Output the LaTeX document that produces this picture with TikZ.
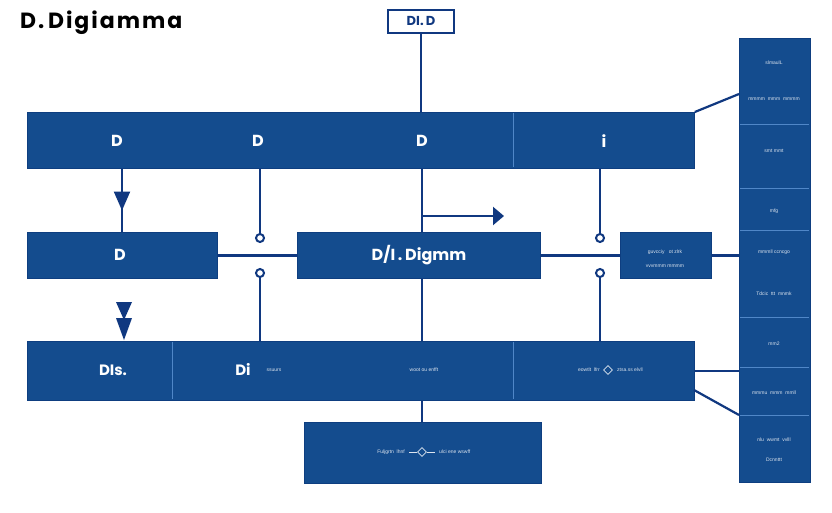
\documentclass[tikz,border=0pt]{standalone}
\usepackage{fontspec}
\setmainfont{Liberation Sans}
\newfontfamily\popfont{Poppins}
\newfontfamily\popwide{Poppins}[LetterSpace=9]
\usetikzlibrary{arrows.meta,decorations.markings,shapes.geometric}
\definecolor{boxblue}{RGB}{20,76,142}
\definecolor{boxedge}{RGB}{14,62,128}
\definecolor{linenavy}{RGB}{16,56,128}
\definecolor{divblue}{RGB}{80,135,200}
\tikzset{
  box/.style={fill=boxblue, draw=boxedge, line width=0.8pt, inner sep=0pt, anchor=north west},
  conn/.style={draw=linenavy, line width=2.2pt},
  hook/.style={circle, draw=linenavy, line width=2pt, fill=white, minimum size=8pt, inner sep=0pt},
  big/.style={text=white, font=\popfont\bfseries\fontsize{16}{16}\selectfont, inner sep=0pt},
  tiny/.style={text=white!85!boxblue, font=\fontsize{5}{5}\selectfont, inner sep=0pt},
  divl/.style={draw=divblue, line width=0.8pt},
  dia/.style={diamond, draw=white!85!boxblue, line width=0.7pt, minimum size=9pt, inner sep=0pt},
  midarrow/.style={postaction={decorate}, decoration={markings, mark=at position #1 with {\arrow{Triangle[length=19pt,width=16pt]}}}}
}
\begin{document}
\begin{tikzpicture}[x=1pt,y=-1pt]
\useasboundingbox (0,0) rectangle (832,512);
\fill[white] (0,0) rectangle (832,512);

% title
\node[anchor=west, inner sep=0pt, font=\popwide\bfseries\fontsize{22}{22}\selectfont] (title) at (20,23) {D.\,Digiamma};
\node[draw=linenavy, line width=2pt, fill=white, minimum width=66pt, minimum height=23pt, inner sep=0pt,
      text=linenavy, font=\popfont\bfseries\fontsize{13}{13}\selectfont] (tbox) at (421,21) {DI.\,D};

% boxes
\node[box, minimum width=667pt, minimum height=56pt] (top) at (27,112) {};
\node[box, minimum width=190pt, minimum height=46pt] (lbox) at (27,232) {};
\node[box, minimum width=243pt, minimum height=46pt] (mbox) at (297,232) {};
\node[box, minimum width=91pt, minimum height=46pt] (rbox) at (620,232) {};
\node[box, minimum width=667pt, minimum height=59pt] (bot) at (27,341) {};
\node[box, minimum width=237pt, minimum height=61pt] (bbox) at (304,422) {};
\node[box, minimum width=71pt, minimum height=444pt] (rcol) at (739,38) {};

% dividers
\draw[divl] (513,113) -- (513,167);
\draw[divl] (172,342) -- (172,399);
\draw[divl] (513,342) -- (513,399);
\foreach \yy in {124,188,230,317,367,415} \draw[divl] (740,\yy) -- (809,\yy);

% labels
\node[big] (lt1) at (117,141) {D};
\node[big] (lt2) at (258,141) {D};
\node[big] (lt3) at (422,141) {D};
\node[big] (lt4) at (604,141) {i};
\node[big] (ll) at (120,255) {D};
\node[big] (lm) at (419,255) {D/I\,.\,Digmm};
\node[tiny] (lr1) at (665,252) {guvcciy \ \ ot zlrk};
\node[tiny] (lr2) at (665,266) {vvvmmm mmmm};
\node[big, font=\popfont\bfseries\fontsize{15}{15}\selectfont] (lb1) at (113,370) {DIs.};
\node[big, font=\popfont\bfseries\fontsize{15}{15}\selectfont] (lb2) at (243,369) {Di};
\node[tiny] (lb3) at (274,370) {ssuurs};
\node[tiny] (lb4) at (424,370) {woot ou enfft};
\node[tiny, anchor=east] (lb5) at (600,370) {eowtlt \ lfrr};
\node[dia] (d1) at (608,370) {};
\node[tiny, anchor=west] (lb6) at (617,370) {ztsa.ss elvll};
\node[tiny, anchor=east] (lbb1) at (405,452) {Fuljgrtn \ lhnf};
\node[dia] (d2) at (422,452) {};
\draw[white!85!boxblue, line width=0.7pt] (409,452) -- (d2.west) (d2.east) -- (435,452);
\node[tiny, anchor=west] (lbb2) at (439,452) {ulci ene wswff};

% right column texts
\node[tiny] (c1) at (774,63) {slmaulL};
\node[tiny] (c2) at (774,99) {mmmm \ mmm \ mmmm};
\node[tiny] (c3) at (774,151) {smt mmt};
\node[tiny] (c4) at (774,211) {mfg};
\node[tiny] (c5) at (774,252) {mmmll ccncgo};
\node[tiny] (c6) at (774,294) {Tdcic \ ttt \ mnmk};
\node[tiny] (c7) at (774,344) {mm2};
\node[tiny] (c8) at (774,393) {mmmu \ mmm \ mmll};
\node[tiny] (c9) at (774,440) {nlu \ wwmt \ vvlll};
\node[tiny] (c10) at (774,460) {Dcnnttt};

% column x coordinates
\coordinate (x1) at (122,0);
\coordinate (x3) at (422,0);

% hooks
\node[hook] (h1) at (260,238) {};
\node[hook] (h2) at (260,273) {};
\node[hook] (h3) at (600,238) {};
\node[hook] (h4) at (600,273) {};

% connectors
\draw[conn] (tbox.south) -- (tbox.south |- top.north);
\draw[conn, midarrow=0.66] (top.south -| x1) -- (lbox.north -| x1);
\draw[conn] (top.south -| h1) -- (h1.north);
\draw[conn] (h2.south) -- (h2.south |- bot.north);
\draw[conn] (top.south -| h3) -- (h3.north);
\draw[conn] (h4.south) -- (h4.south |- bot.north);
\draw[conn] (top.south -| x3) -- (mbox.north -| x3);
\draw[conn] (mbox.south -| x3) -- (bot.north -| x3);
\draw[conn] (bot.south -| x3) -- (bbox.north -| x3);
\coordinate (a0) at (422,216);
\coordinate (a1) at (504,216);
\draw[conn, -{Triangle[length=11pt,width=18pt]}] (a0) -- (a1);
\draw[conn] (lbox.east) -- (mbox.west);
\draw[conn] (mbox.east) -- (rbox.west);
\draw[conn] (rbox.east) -- (rbox.east -| rcol.west);
\coordinate (q1) at (739,94);
\draw[conn] (top.north east) -- (q1);
\draw[conn] (bot.east) -- (bot.east -| rcol.west);
\coordinate (q3s) at (694,390);
\coordinate (q3) at (739,415);
\draw[conn] (q3s) -- (q3);

% double arrowhead
\fill[linenavy] (116,302) -- (132,302) -- (124,320) -- cycle;
\fill[linenavy] (116,318) -- (132,318) -- (124,340) -- cycle;
\end{tikzpicture}
\end{document}
